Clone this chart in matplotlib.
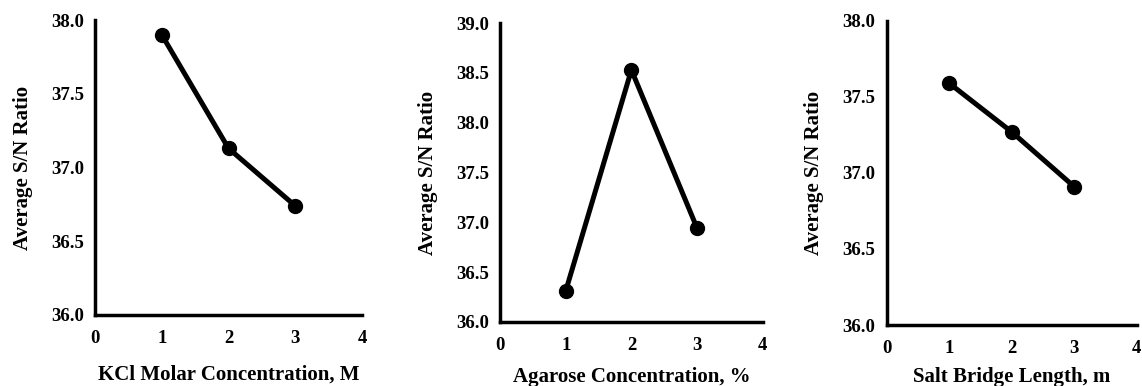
import matplotlib
matplotlib.use("Agg")
import matplotlib.pyplot as plt

plt.rcParams["font.family"] = ["Liberation Serif", "DejaVu Serif"]
plt.rcParams["font.weight"] = "bold"

# factor levels and mean S/N ratios
levels = [1, 2, 3]
kcl_sn = [37.90, 37.13, 36.74]
agarose_sn = [36.31, 38.53, 36.94]
length_sn = [37.59, 37.27, 36.91]

x_labels = ["KCl Molar Concentration, M", "Agarose Concentration, %", "Salt Bridge Length, m"]
y_label = "Average S/N Ratio"
y_limits = [(36.0, 38.0), (36.0, 39.0), (36.0, 38.0)]
x_ticks = [0, 1, 2, 3, 4]

# axes boxes in figure fractions [left, bottom, width, height]
boxes = [
    [0.0832, 0.184, 0.2338, 0.764],
    [0.4378, 0.166, 0.2302, 0.774],
    [0.7764, 0.158, 0.2189, 0.788],
]
xlabel_y = [375, 377, 377]   # px from top

fig = plt.figure(figsize=(11.42, 3.86), dpi=100)

for box, ys, xl, ylim, xly in zip(boxes, [kcl_sn, agarose_sn, length_sn],
                                  x_labels, y_limits, xlabel_y):
    ax = fig.add_axes(box)
    ax.plot(levels, ys, color="black", linewidth=3.6, marker="o",
            markersize=10, markerfacecolor="black", markeredgecolor="black",
            clip_on=False, zorder=3)
    ax.set_xlim(0, 4)
    ax.set_ylim(*ylim)
    ax.set_xticks(x_ticks)
    lo, hi = ylim
    yt = [lo + 0.5 * i for i in range(int(round((hi - lo) / 0.5)) + 1)]
    ax.set_yticks(yt)
    ax.set_yticklabels([f"{v:.1f}" for v in yt])
    ax.tick_params(axis="y", length=0, labelsize=13.5, pad=8)
    ax.tick_params(axis="x", length=0, labelsize=13.5, pad=11)
    for lab in ax.get_xticklabels() + ax.get_yticklabels():
        lab.set_fontweight("bold")
    for side in ("top", "right"):
        ax.spines[side].set_visible(False)
    for side in ("left", "bottom"):
        ax.spines[side].set_linewidth(2.5)
        ax.spines[side].set_color("black")
    ax.set_ylabel(y_label, fontsize=15, fontweight="bold", labelpad=13)
    # x label sits well below the tick labels
    bx = box[0] + box[2] / 2
    fig.text(bx, 1 - xly / 386, xl, ha="center", va="center",
             fontsize=15, fontweight="bold")

fig.savefig("out.png", dpi=100, facecolor="white")
